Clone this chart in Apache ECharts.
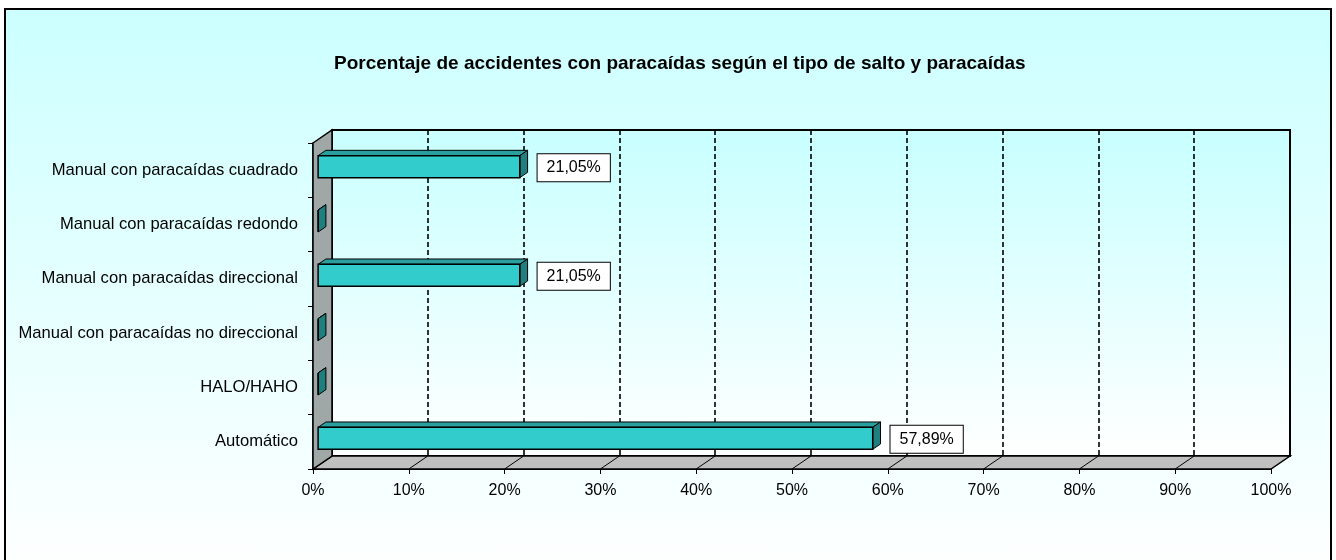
<!DOCTYPE html>
<html>
<head>
<meta charset="utf-8">
<script src="https://cdn.jsdelivr.net/npm/echarts@6/dist/echarts.min.js"></script>
<style>
  html, body { margin: 0; padding: 0; width: 1336px; height: 560px; overflow: hidden; background: #ffffff; }
  .frame {
    position: absolute; left: 4px; top: 8px; width: 1324px; height: 600px;
    border: 2px solid #000;
    background: linear-gradient(to bottom, #ccffff 0%, #ffffff 95%);
  }
  #chart { position: absolute; left: 0; top: 0; width: 1336px; height: 560px; }
</style>
</head>
<body>
<div class="frame"></div>
<div id="chart"></div>
<script>
// datos
const categories = [
  'Manual con paracaídas cuadrado',
  'Manual con paracaídas redondo',
  'Manual con paracaídas direccional',
  'Manual con paracaídas no direccional',
  'HALO/HAHO',
  'Automático'
]
const percentages = [21.05, 0, 21.05, 0, 0, 57.89]
const xTicks = [0, 10, 20, 30, 40, 50, 60, 70, 80, 90, 100]

// desplazamiento de profundidad (efecto 3D)
const DX = 19
const DY = -13
const FONT = 'Arial, "Liberation Sans", sans-serif'

const fmtPct = v => v.toFixed(2).replace('.', ',') + '%'

const chart = echarts.init(document.getElementById('chart'))

// paredes y suelo
const renderWalls = (params, api) => {
  const cs = params.coordSys
  const x = cs.x, y = cs.y, w = cs.width, h = cs.height
  const children = []
  children.push({
    type: 'polygon',
    shape: { points: [[x, y + h], [x + w, y + h], [x + w + DX, y + h + DY], [x + DX, y + h + DY]] },
    style: { fill: '#c0c0c0', stroke: '#000', lineWidth: 1.5 }
  })
  xTicks.slice(1, -1).forEach(t => {
    const px = api.coord([t, 0])[0]
    children.push({
      type: 'line',
      shape: { x1: px, y1: y + h, x2: px + DX, y2: y + h + DY },
      style: { stroke: '#000', lineWidth: 1 }
    })
  })
  children.push({
    type: 'polygon',
    shape: { points: [[x, y], [x + DX, y + DY], [x + DX, y + h + DY], [x, y + h]] },
    style: { fill: '#9fa7a7', stroke: '#000', lineWidth: 1.5 }
  })
  return { type: 'group', children }
}

// barras 3D
const renderBar = (params, api) => {
  const v = api.value(0)
  const idx = api.value(1)
  const start = api.coord([0, idx])
  const end = api.coord([v, idx])
  const band = api.size([0, 1])[1]
  const h = band * 0.405
  const f0 = 0.27
  const f1 = 0.68
  const x0 = start[0] + DX * f0
  const x1 = end[0] + DX * f0
  const yc = start[1] + DY * f0
  const top = yc - h / 2
  const bot = yc + h / 2
  const ddx = DX * (f1 - f0)
  const ddy = DY * (f1 - f0)
  const children = [
    {
      type: 'polygon',
      shape: { points: [[x0, top], [x1, top], [x1 + ddx, top + ddy], [x0 + ddx, top + ddy]] },
      style: { fill: '#2a9f9f', stroke: '#000', lineWidth: 1 }
    },
    {
      type: 'polygon',
      shape: { points: [[x1, top], [x1 + ddx, top + ddy], [x1 + ddx, bot + ddy], [x1, bot]] },
      style: { fill: '#1f7f7f', stroke: '#000', lineWidth: 1 }
    },
    {
      type: 'rect',
      shape: { x: x0, y: top, width: x1 - x0, height: h },
      style: { fill: '#33cccc', stroke: '#000', lineWidth: 1.5 }
    }
  ]
  if (v > 0) {
    children.push({
      type: 'text',
      x: x1 + ddx + 10,
      y: yc + 1,
      style: {
        text: fmtPct(v),
        fill: '#000',
        font: '16px ' + FONT,
        align: 'left',
        verticalAlign: 'middle',
        backgroundColor: '#fff',
        borderColor: '#000',
        borderWidth: 1,
        padding: [6, 9, 5, 9]
      }
    })
  }
  return { type: 'group', children }
}

const option = {
  animation: false,
  title: {
    text: 'Porcentaje de accidentes con paracaídas según el tipo de salto y paracaídas',
    left: 329,
    top: 49,
    textStyle: { fontFamily: FONT, fontSize: 19, fontWeight: 'bold', color: '#000' }
  },
  grid: [
    // plano frontal
    { left: 313, right: 65, top: 143, bottom: 91 },
    // pared del fondo
    {
      left: 332, right: 46, top: 130, bottom: 104,
      show: true,
      borderColor: '#000',
      borderWidth: 2,
      backgroundColor: new echarts.graphic.LinearGradient(0, 0, 0, 1, [
        { offset: 0, color: '#c8ffff' },
        { offset: 1, color: '#ffffff' }
      ])
    }
  ],
  xAxis: [
    {
      gridIndex: 0,
      type: 'value',
      min: 0,
      max: 100,
      interval: 10,
      axisLine: { show: true, lineStyle: { color: '#000', width: 2 } },
      axisTick: { show: true, length: 5, lineStyle: { color: '#000' } },
      splitLine: { show: false },
      axisLabel: {
        margin: 14,
        color: '#000',
        fontFamily: FONT,
        fontSize: 16,
        formatter: v => v + '%'
      }
    },
    {
      gridIndex: 1,
      type: 'value',
      min: 0,
      max: 100,
      interval: 10,
      axisLine: { show: false },
      axisTick: { show: false },
      axisLabel: { show: false },
      splitLine: { show: true, lineStyle: { color: '#000', width: 1.6, type: [5, 3] } }
    }
  ],
  yAxis: [
    {
      gridIndex: 0,
      type: 'category',
      inverse: true,
      data: categories,
      axisLine: { show: true, lineStyle: { color: '#000', width: 1.5 } },
      axisTick: { show: true, length: 5, lineStyle: { color: '#000' } },
      axisLabel: { margin: 15, color: '#000', fontFamily: FONT, fontSize: 16.6 }
    },
    {
      gridIndex: 1,
      type: 'category',
      inverse: true,
      data: categories,
      show: false
    }
  ],
  series: [
    {
      type: 'custom',
      xAxisIndex: 0,
      yAxisIndex: 0,
      z: 1,
      silent: true,
      renderItem: renderWalls,
      data: [[0, 0]]
    },
    {
      type: 'custom',
      xAxisIndex: 0,
      yAxisIndex: 0,
      z: 3,
      renderItem: renderBar,
      encode: { x: 0, y: 1 },
      data: percentages.map((v, i) => [v, i])
    }
  ]
}

chart.setOption(option)
</script>
</body>
</html>
